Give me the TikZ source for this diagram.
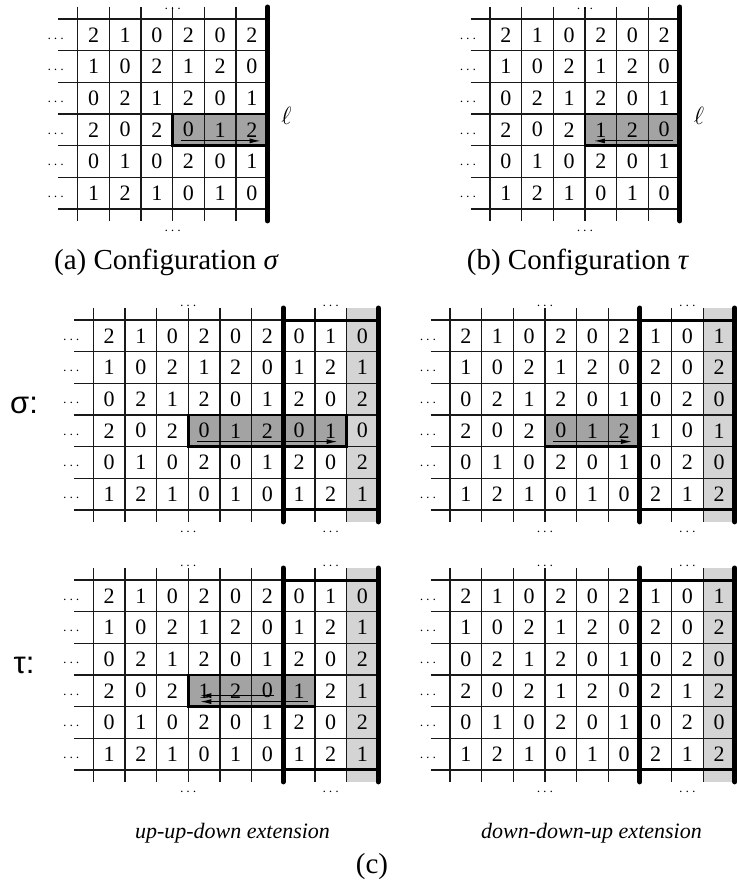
\documentclass[tikz,border=0pt]{standalone}
\usepackage{fontspec}
\setmainfont{Liberation Serif}
\newfontfamily\labelfont{Liberation Sans}
\usetikzlibrary{arrows.meta}
\definecolor{hilite}{gray}{0.64}
\definecolor{extcol}{gray}{0.83}
\tikzset{
  gridline/.style={line width=1.3pt, black!90},
  wall/.style={line width=5pt, line cap=round},
  extedge/.style={line width=3pt},
  hiborder/.style={line width=2.6pt},
  cellnum/.style={font=\fontsize{22}{26}\selectfont, inner sep=0pt},
  dotsmark/.style={font=\fontsize{15}{15}\selectfont, inner sep=0pt, anchor=base},
  walk/.style={line width=1.1pt, -{Latex[length=11pt,width=5pt]}},
  captext/.style={font=\fontsize{29}{32}\selectfont, anchor=base},
  subcap/.style={font=\fontsize{22}{26}\selectfont\itshape, anchor=base},
  rowlabel/.style={font=\labelfont\fontsize{31}{34}\selectfont, inner sep=0pt},
  ellmark/.style={font=\fontsize{30}{32}\selectfont, inner sep=0pt},
}
\def\cs{31.65}
% distance from the baseline of \cdots down to where its dots should sit
\def\axis{7.5}

% grid lines of a panel: #1 x0, #2 y0, #3 number of columns
\newcommand{\latticelines}[3]{%
  \begin{scope}[shift={(#1,#2)}]
    \foreach \j in {0,...,6}
      \draw[gridline] (-19.5,\j*\cs) -- (#3*\cs,\j*\cs);
    \pgfmathtruncatemacro\lastcol{#3-1}
    \foreach \i in {0,...,\lastcol}
      \draw[gridline] (\i*\cs,-12) -- (\i*\cs,6*\cs+12);
  \end{scope}}

% entries of a panel: #1 name, #2 x0, #3 y0, #4 rows, #5 offset of the upper dots
\newcommand{\latticenums}[5]{%
  \begin{scope}[shift={(#2,#3)}]
    \foreach \row [count=\r from 0] in {#4}
      \foreach \v [count=\c from 0] in \row
        \node[cellnum] (#1-\r-\c) at ({(\c+0.5)*\cs},{(\r+0.5)*\cs}) {\v};
    \foreach \r in {0,...,5}
      \node[dotsmark] (#1-l\r) at (-22,{(\r+0.5)*\cs+\axis}) {$\cdots$};
    \node[dotsmark] (#1-top) at (3*\cs,-#5+\axis) {$\cdots$};
    \node[dotsmark] (#1-bot) at (3*\cs,6*\cs+18+\axis) {$\cdots$};
  \end{scope}}

% shaded last column of an extended panel
\newcommand{\extfill}[2]{%
  \begin{scope}[shift={(#1,#2)}]
    \fill[extcol] (8*\cs,-12) rectangle (9*\cs,6*\cs+12);
  \end{scope}}
% frame of the three added columns
\newcommand{\extframe}[3]{%
  \begin{scope}[shift={(#2,#3)}]
    \draw[extedge] (6*\cs,0) -- (9*\cs,0);
    \draw[extedge] (6*\cs,6*\cs) -- (9*\cs,6*\cs);
    \draw[wall] (6*\cs,-12) -- (6*\cs,6*\cs+12);
    \draw[wall] (9*\cs,-12) -- (9*\cs,6*\cs+12);
    \node[dotsmark] (#1-top2) at (7.5*\cs,-18+\axis) {$\cdots$};
    \node[dotsmark] (#1-bot2) at (7.5*\cs,6*\cs+18+\axis) {$\cdots$};
  \end{scope}}

\begin{document}
\begin{tikzpicture}[x=1pt,y=-1pt]
\useasboundingbox (0,0) rectangle (736,888);

% ---------- (a) configuration sigma ----------
\fill[hilite] (77.7+3*\cs,19+3*\cs) rectangle (77.7+6*\cs,19+4*\cs);
\latticelines{77.7}{19}{6}
\draw[hiborder] (77.7+3*\cs,19+3*\cs) rectangle (77.7+6*\cs,19+4*\cs);
\draw[wall] (77.7+6*\cs,7) -- (77.7+6*\cs,19+6*\cs+12);
\latticenums{A}{77.7}{19}{{2,1,0,2,0,2},{1,0,2,1,2,0},{0,2,1,2,0,1},{2,0,2,0,1,2},{0,1,0,2,0,1},{1,2,1,0,1,0}}{14}
\coordinate (A-s) at (77.7+3*\cs+8,19+4*\cs-4.7);
\coordinate (A-e) at (77.7+6*\cs-7,19+4*\cs-4.7);
\draw[walk] (A-s) -- (A-e);
\node[ellmark] (A-ell) at (286.5,116) {$\ell$};
\node[captext] (capA) at (166.5,269) {(a) Configuration \textit{σ}};

% ---------- (b) configuration tau ----------
\fill[hilite] (490+3*\cs,19+3*\cs) rectangle (490+6*\cs,19+4*\cs);
\latticelines{490}{19}{6}
\draw[hiborder] (490+3*\cs,19+3*\cs) rectangle (490+6*\cs,19+4*\cs);
\draw[wall] (490+6*\cs,7) -- (490+6*\cs,19+6*\cs+12);
\latticenums{B}{490}{19}{{2,1,0,2,0,2},{1,0,2,1,2,0},{0,2,1,2,0,1},{2,0,2,1,2,0},{0,1,0,2,0,1},{1,2,1,0,1,0}}{14}
\coordinate (B-s) at (490+6*\cs-7,19+4*\cs-4.7);
\coordinate (B-e) at (490+3*\cs+9,19+4*\cs-4.7);
\draw[walk] (B-s) -- (B-e);
\node[ellmark] (B-ell) at (699,116) {$\ell$};
\node[captext] (capB) at (578,269) {(b) Configuration \textit{τ}};

% ---------- (c) row labels ----------
\node[rowlabel] (lsigma) at (24,405) {σ:};
\node[rowlabel] (ltau) at (24,665) {τ:};

% ---------- sigma, up-up-down ----------
\extfill{93.3}{320}
\fill[hilite] (93.3+3*\cs,320+3*\cs) rectangle (93.3+8*\cs,320+4*\cs);
\latticelines{93.3}{320}{9}
\draw[hiborder] (93.3+3*\cs,320+3*\cs) rectangle (93.3+8*\cs,320+4*\cs);
\extframe{C}{93.3}{320}
\latticenums{C}{93.3}{320}{{2,1,0,2,0,2,0,1,0},{1,0,2,1,2,0,1,2,1},{0,2,1,2,0,1,2,0,2},{2,0,2,0,1,2,0,1,0},{0,1,0,2,0,1,2,0,2},{1,2,1,0,1,0,1,2,1}}{18}
\coordinate (C-s) at (93.3+3*\cs+9,320+4*\cs-5);
\coordinate (C-e) at (93.3+8*\cs-9,320+4*\cs-5);
\draw[walk] (C-s) -- (C-e);

% ---------- sigma, down-down-up ----------
\extfill{450}{320}
\fill[hilite] (450+3*\cs,320+3*\cs) rectangle (450+6*\cs,320+4*\cs);
\latticelines{450}{320}{9}
\draw[hiborder] (450+3*\cs,320+3*\cs) rectangle (450+6*\cs,320+4*\cs);
\extframe{D}{450}{320}
\latticenums{D}{450}{320}{{2,1,0,2,0,2,1,0,1},{1,0,2,1,2,0,2,0,2},{0,2,1,2,0,1,0,2,0},{2,0,2,0,1,2,1,0,1},{0,1,0,2,0,1,0,2,0},{1,2,1,0,1,0,2,1,2}}{18}
\coordinate (D-s) at (450+3*\cs+8,320+4*\cs-5);
\coordinate (D-e) at (450+6*\cs-8,320+4*\cs-5);
\draw[walk] (D-s) -- (D-e);

% ---------- tau, up-up-down ----------
\extfill{93.3}{580}
\fill[hilite] (93.3+3*\cs,580+3*\cs) rectangle (93.3+7*\cs,580+4*\cs);
\latticelines{93.3}{580}{9}
\draw[hiborder] (93.3+3*\cs,580+3*\cs) rectangle (93.3+7*\cs,580+4*\cs);
\extframe{E}{93.3}{580}
\latticenums{E}{93.3}{580}{{2,1,0,2,0,2,0,1,0},{1,0,2,1,2,0,1,2,1},{0,2,1,2,0,1,2,0,2},{2,0,2,1,2,0,1,2,1},{0,1,0,2,0,1,2,0,2},{1,2,1,0,1,0,1,2,1}}{18}
\coordinate (E-s1) at (93.3+6*\cs-9,580+4*\cs-11);
\coordinate (E-e1) at (93.3+3*\cs+12,580+4*\cs-11);
\coordinate (E-s2) at (93.3+7*\cs-7,580+4*\cs-5);
\coordinate (E-e2) at (93.3+3*\cs+12,580+4*\cs-5);
\draw[walk] (E-s1) -- (E-e1);
\draw[walk] (E-s2) -- (E-e2);

% ---------- tau, down-down-up ----------
\extfill{450}{580}
\latticelines{450}{580}{9}
\extframe{F}{450}{580}
\latticenums{F}{450}{580}{{2,1,0,2,0,2,1,0,1},{1,0,2,1,2,0,2,0,2},{0,2,1,2,0,1,0,2,0},{2,0,2,1,2,0,2,1,2},{0,1,0,2,0,1,0,2,0},{1,2,1,0,1,0,2,1,2}}{18}

% ---------- captions ----------
\node[subcap] (capE) at (232.5,838) {up-up-down extension};
\node[subcap] (capF) at (591.5,838) {down-down-up extension};
\node[captext] (capC) at (372,873) {(c)};
\end{tikzpicture}
\end{document}
